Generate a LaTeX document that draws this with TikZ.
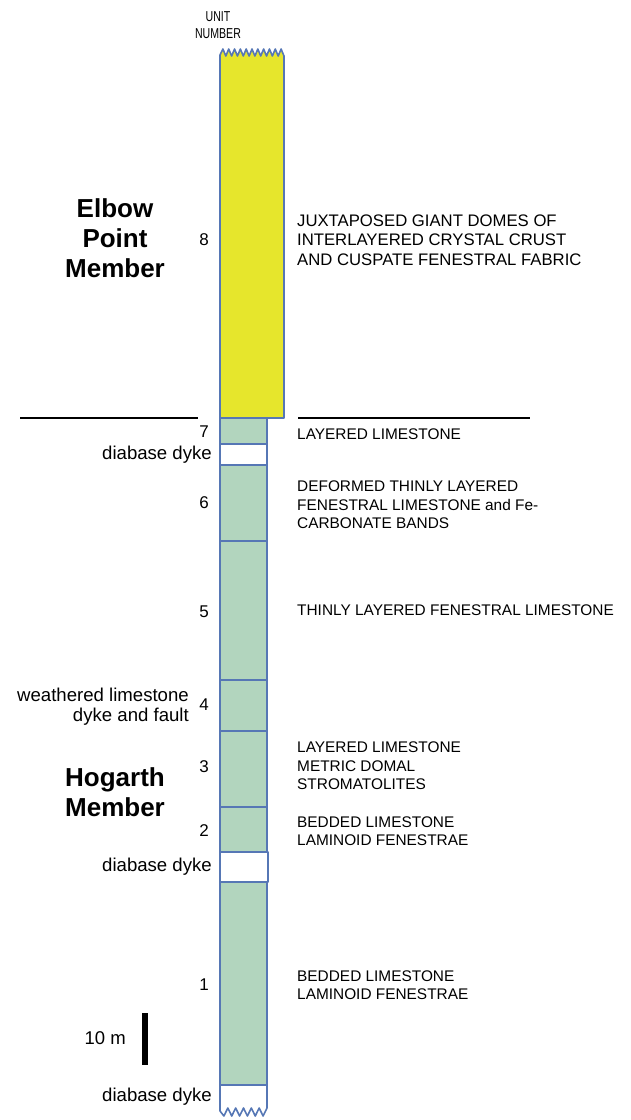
\documentclass[tikz,border=0pt]{standalone}
\usepackage{fontspec}
\setmainfont{Liberation Sans}
\definecolor{ylw}{HTML}{E6E62C}
\definecolor{grn}{HTML}{B2D5BE}
\definecolor{edge}{HTML}{5677B5}
\begin{document}
\begin{tikzpicture}[x=1pt,y=-1pt,
  layer/.style={draw=edge,line width=1.6pt,line join=round},
  desc/.style={anchor=west,align=left,inner sep=0pt,font=\fontsize{15.4}{18.5}\selectfont},
  descbig/.style={anchor=west,align=left,inner sep=0pt,font=\fontsize{16.7}{19.3}\selectfont},
  unitnum/.style={anchor=east,inner sep=0pt,font=\fontsize{17}{19}\selectfont},
  lab/.style={anchor=east,align=right,inner sep=0pt,font=\fontsize{18.6}{20}\selectfont},
  member/.style={align=center,inner sep=0pt,font=\fontsize{26}{30}\selectfont\bfseries},
  rule/.style={line width=1.5pt}]
\useasboundingbox (0,0) rectangle (631,1120);
% unit 8 yellow with zigzag top
\fill[ylw] (220,418) -- (220,55)
  \foreach \i in {1,...,11} { -- ({220+(\i-0.5)*64/11},49) -- ({220+\i*64/11},56) } -- (284,418) -- cycle;
\draw[layer] (220,418) -- (220,55)
  \foreach \i in {1,...,11} { -- ({220+(\i-0.5)*64/11},49) -- ({220+\i*64/11},56) } -- (284,418) -- cycle;
% green units
\draw[layer,fill=grn] (220,418) rectangle (267,444);
\draw[layer,fill=white] (220,444) rectangle (267,465);
\draw[layer,fill=grn] (220,465) rectangle (267,541);
\draw[layer,fill=grn] (220,541) rectangle (267,680);
\draw[layer,fill=grn] (220,680) rectangle (267,731);
\draw[layer,fill=grn] (220,731) rectangle (267,807);
\draw[layer,fill=grn] (220,807) rectangle (267,852);
\draw[layer,fill=white] (220,852) rectangle (268,882);
\draw[layer,fill=grn] (220,882) rectangle (267,1085);
\draw[layer,fill=white] (220,1085) -- (220,1111)
  \foreach \i in {1,...,6} { -- ({220+(\i-0.5)*47/6},1116) -- ({220+\i*47/6},1108) } -- (267,1085) -- cycle;
% boundary rules
\coordinate (l1) at (20,418); \coordinate (l2) at (198,418);
\coordinate (r1) at (298,418); \coordinate (r2) at (530,418);
\draw[rule] (l1) -- (l2);
\draw[rule] (r1) -- (r2);
% header
\node[align=center,inner sep=0pt] (hdr) at (218,27) {\scalebox{0.92}[1.25]{\fontsize{11.5}{13.5}\selectfont\begin{tabular}{@{}c@{}}UNIT\\NUMBER\end{tabular}}};
% members
\node[member] (elbow) at (115,238) {Elbow\\Point\\Member};
\node[member] (hog) at (115,792) {Hogarth\\Member};
% unit numbers
\node[unitnum] (n8) at (209,240) {8};
\node[unitnum] (n7) at (209,432) {7};
\node[unitnum] (n6) at (209,503) {6};
\node[unitnum] (n5) at (209,612) {5};
\node[unitnum] (n4) at (209,705) {4};
\node[unitnum] (n3) at (209,767) {3};
\node[unitnum] (n2) at (209,831) {2};
\node[unitnum] (n1) at (209,985) {1};
% left labels
\node[lab] (d1) at (212,455) {diabase dyke};
\node[lab] (wl) at (189,707) {weathered limestone\\dyke and fault};
\node[lab] (d2) at (212,867) {diabase dyke};
\node[lab] (d3) at (212,1097) {diabase dyke};
% descriptions
\node[descbig] (t8) at (297,240) {JUXTAPOSED GIANT DOMES OF\\INTERLAYERED CRYSTAL CRUST\\AND CUSPATE FENESTRAL FABRIC};
\node[desc] (t7) at (297,434) {LAYERED LIMESTONE};
\node[desc] (t6) at (297,505) {DEFORMED THINLY LAYERED\\FENESTRAL LIMESTONE and Fe-\\CARBONATE BANDS};
\node[desc] (t5) at (297,610) {THINLY LAYERED FENESTRAL LIMESTONE};
\node[desc] (t3) at (297,766) {LAYERED LIMESTONE\\METRIC DOMAL\\STROMATOLITES};
\node[desc] (t2) at (297,831) {BEDDED LIMESTONE\\LAMINOID FENESTRAE};
\node[desc] (t1) at (297,985) {BEDDED LIMESTONE\\LAMINOID FENESTRAE};
% scale bar
\node[anchor=east,inner sep=0pt,font=\fontsize{18.5}{20}\selectfont] (sc) at (126,1038) {10 m};
\coordinate (sb1) at (145,1013); \coordinate (sb2) at (145,1065);
\draw[line width=6pt] (sb1) -- (sb2);
\end{tikzpicture}
\end{document}
